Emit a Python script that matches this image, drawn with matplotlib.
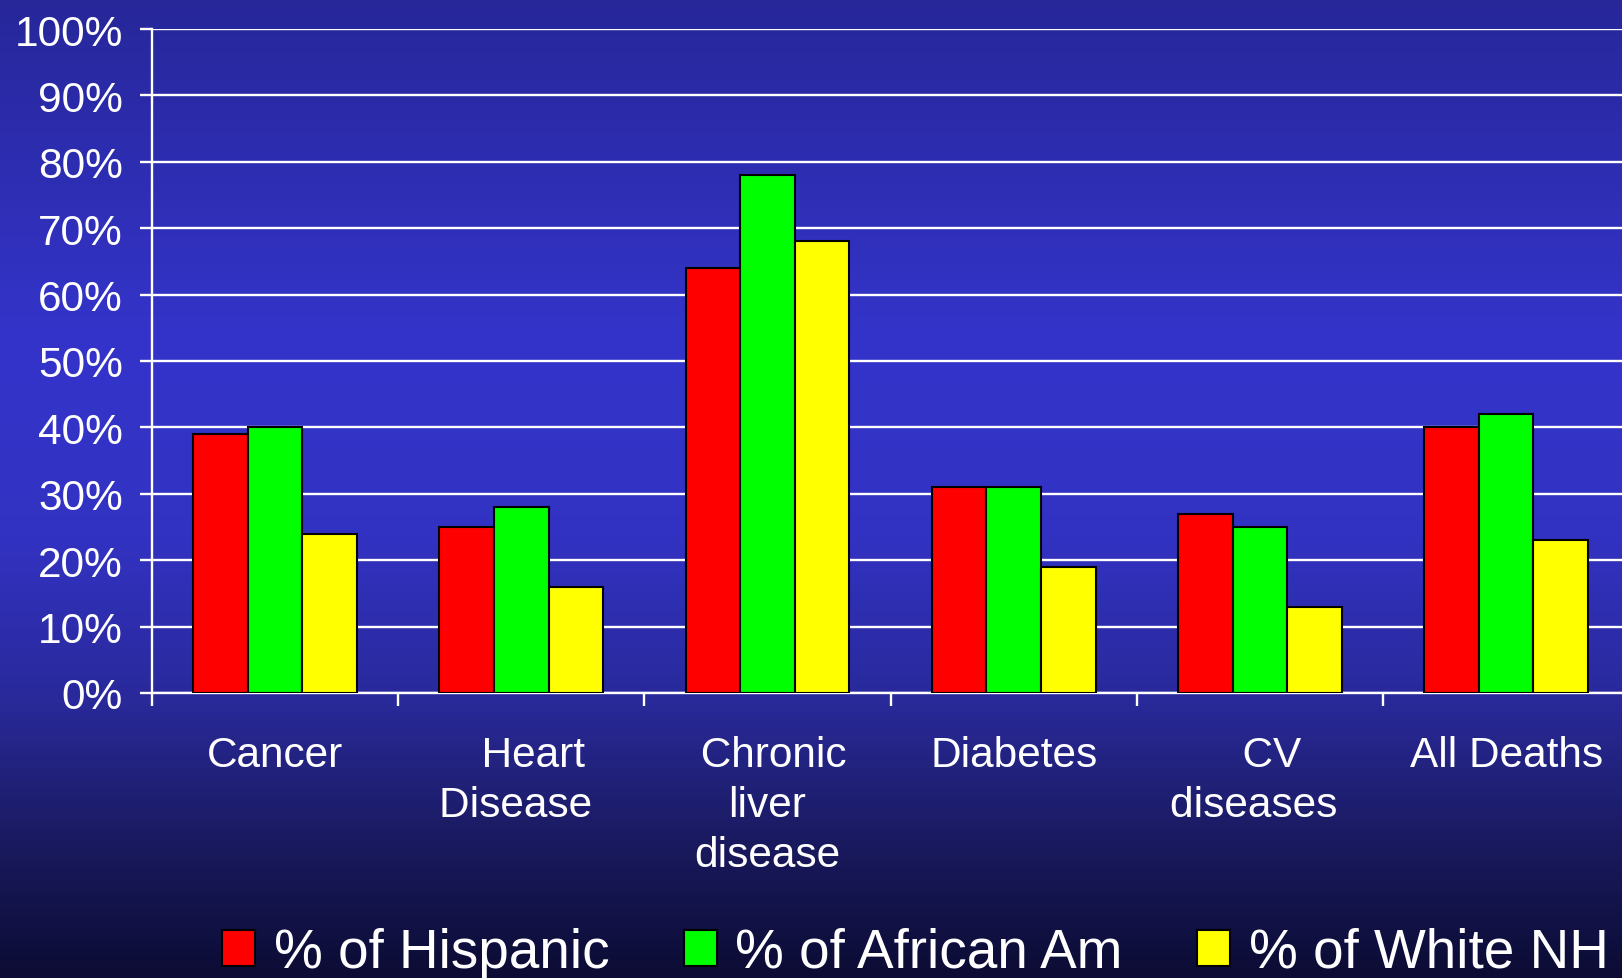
import numpy as np
import matplotlib
matplotlib.use('Agg')
import matplotlib.pyplot as plt
from matplotlib.colors import LinearSegmentedColormap
from matplotlib.patches import Patch
from matplotlib.ticker import FixedLocator, NullFormatter

# данные
categories = ['Cancer', '  Heart\nDisease ', ' Chronic\nliver\ndisease', 'Diabetes', '  CV\ndiseases ', 'All Deaths']
series_names = ['% of Hispanic', '% of African Am', '% of White NH']
hispanic = [39, 25, 64, 31, 27, 40]
african_am = [40, 28, 78, 31, 25, 42]
white_nh = [24, 16, 68, 19, 13, 23]
yticks = list(range(0, 101, 10))

plt.rcParams['font.family'] = ['Liberation Sans', 'DejaVu Sans']

fig = plt.figure(figsize=(16.22, 9.79), dpi=100)

# фон - вертикальный градиент
bg = fig.add_axes([0, 0, 1, 1], zorder=-1)
cmap = LinearSegmentedColormap.from_list('bg', [
    (0.0, '#27279a'), (0.35, '#3434cb'), (0.55, '#3232c2'),
    (0.72, '#29299a'), (0.86, '#1a1a60'), (1.0, '#0c0c34')])
bg.imshow(np.linspace(0, 1, 256).reshape(-1, 1), aspect='auto', cmap=cmap,
          extent=[0, 1, 0, 1])
bg.axis('off')

ax = fig.add_axes([152 / 1622, 1 - 694 / 979, 1 - 152 / 1622, 664 / 979])
ax.set_facecolor('none')

x = np.arange(len(categories))
w = 0.222
colors = ['#ff0000', '#00ff00', '#ffff00']
for i, (vals, c) in enumerate(zip([hispanic, african_am, white_nh], colors)):
    ax.bar(x + (i - 1) * w, vals, width=w, color=c, edgecolor='black',
           linewidth=1.5, zorder=3)

ax.set_ylim(0, 100)
ax.set_xlim(-0.5, -0.5 + 1470 / 246.2)
ax.set_yticks(yticks)
ax.set_yticklabels([f'{t}%' for t in yticks])
ax.grid(axis='y', color='white', linewidth=1.7, zorder=1)
ax.set_axisbelow(True)

# тики на границах категорий, подписи по центру
ax.xaxis.set_major_locator(FixedLocator(np.arange(len(categories)) - 0.5))
ax.xaxis.set_major_formatter(NullFormatter())
ax.xaxis.set_minor_locator(FixedLocator(x))
ax.set_xticklabels(categories, minor=True)
ax.tick_params(axis='x', which='minor', length=0, pad=30, labelsize=30.5, labelcolor='white')
ax.tick_params(axis='x', which='major', length=9, width=1.7, color='white')
ax.tick_params(axis='y', length=9, width=1.7, color='white', pad=12,
               labelsize=30.5, labelcolor='white')
for lbl in ax.get_xticklabels(minor=True):
    lbl.set_linespacing(1.33)

for s in ['top', 'right']:
    ax.spines[s].set_visible(False)
for s in ['left', 'bottom']:
    ax.spines[s].set_color('white')
    ax.spines[s].set_linewidth(1.7)

# легенда внизу, как в оригинале обрезана правым краем
handles = [Patch(facecolor=c, edgecolor='black', linewidth=1.5) for c in colors]
fig.legend(handles, series_names, loc='center left', ncol=3,
           bbox_to_anchor=(222 / 1622, 1 - 954 / 979), frameon=False,
           fontsize=39.5, labelcolor='white', handlelength=0.6, handleheight=0.63,
           handletextpad=0.34, columnspacing=1.36, borderpad=0, borderaxespad=0)

fig.savefig('out.png', dpi=100)
